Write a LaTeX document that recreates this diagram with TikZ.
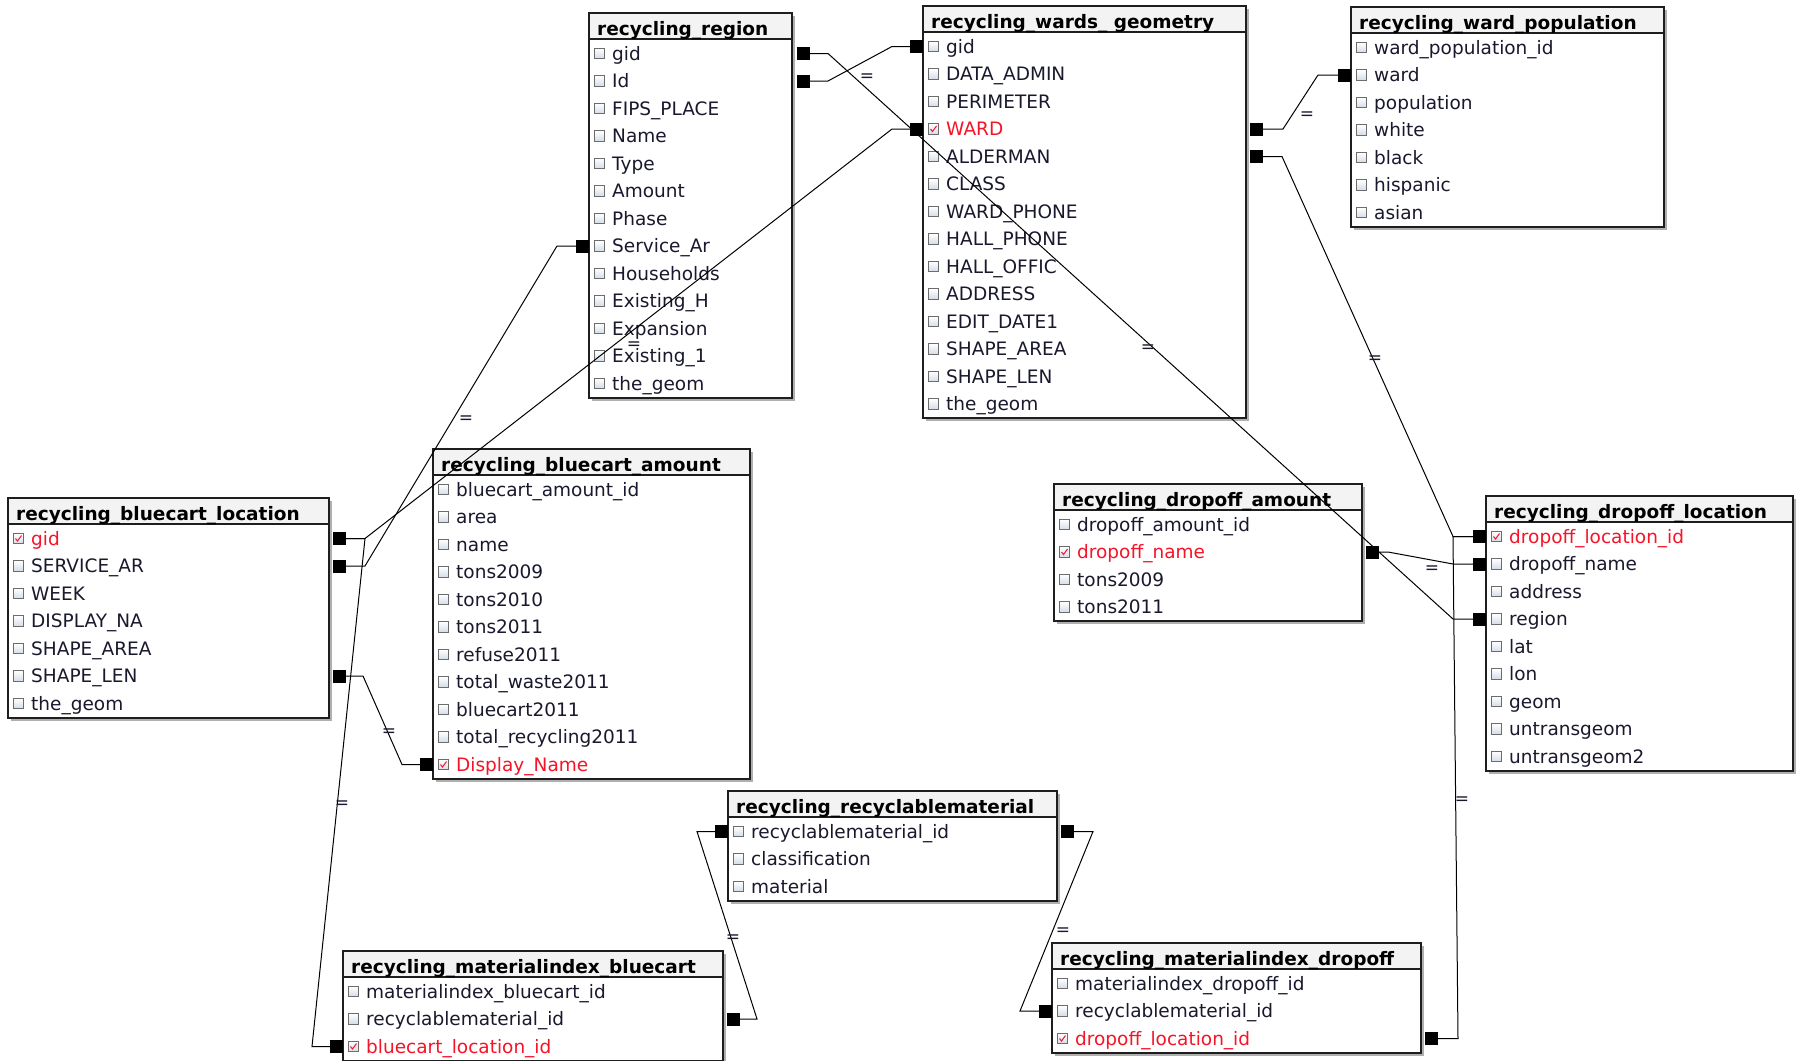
\documentclass[tikz,border=0pt]{standalone}
\usepackage{fontspec}
\setmainfont{DejaVu Sans}
\definecolor{txt}{RGB}{25,25,45}
\definecolor{keyred}{RGB}{245,20,40}
\definecolor{hdr}{RGB}{243,243,243}
\definecolor{shd}{RGB}{175,175,175}
\definecolor{bord}{RGB}{30,30,30}
\tikzset{
 rowtxt/.style={anchor=base west, inner sep=0pt, text=txt, font=\fontsize{18.5}{22}\selectfont},
 keytxt/.style={rowtxt, text=keyred},
 ttl/.style={anchor=base west, inner sep=0pt, text=black, font=\fontsize{18.5}{22}\selectfont\bfseries},
 cbox/.style={draw=gray!85!black, line width=0.8pt, minimum size=10.5pt, inner sep=0pt, top color=white, bottom color={rgb,255:red,212;green,220;blue,232}},
 mk/.style={fill=black, minimum size=13pt, inner sep=0pt, draw=none, rectangle},
 conn/.style={line width=1pt, draw=black},
 eqlabel/.style={inner sep=0pt, text=txt, font=\fontsize{17}{17}\selectfont},
}
\newcommand\dbtable[8]{%
 \pgfmathsetmacro\tbot{#3+27+#5*27.5}%
 \fill[shd] (#2+3,#3+3) rectangle (#4+3,\tbot+3);
 \fill[white] (#2,#3) rectangle (#4,\tbot);
 \fill[hdr] (#2,#3) rectangle (#4,#3+26);
 \draw[bord, line width=1.5pt] (#2,#3+26) -- (#4,#3+26);
 \draw[bord, line width=2pt] (#2,#3) rectangle (#4,\tbot);
 \node[ttl] (#1-title) at (#2+8,#3+22.5) {#7};
 \foreach \r [count=\i] in {#8} {%
   \pgfmathsetmacro\ry{#3+13+\i*27.5}%
   \node[cbox] (#1-cb\i) at (#2+10.5,\ry) {};
   \ifnum\i=#6\relax
     \node[keytxt] (#1-\i) at (#2+23,\ry+6.5) {\r};
     \draw[keyred, line width=1pt] (#2+7.5,\ry) -- (#2+9.5,\ry+2.5) -- (#2+13.5,\ry-3);
   \else
     \node[rowtxt] (#1-\i) at (#2+23,\ry+6.5) {\r};
   \fi
 }%
}
\begin{document}
\begin{tikzpicture}[x=1pt,y=-1pt]
\useasboundingbox (0,0) rectangle (1796,1060);
\fill[white] (0,0) rectangle (1796,1060);

% tables
\dbtable{rg}{589}{13}{792}{13}{0}{recycling\_region}{gid,Id,FIPS\_PLACE,Name,Type,Amount,Phase,Service\_Ar,Households,Existing\_H,Expansion,Existing\_1,the\_geom}
\dbtable{wg}{923}{6}{1246}{14}{4}{recycling\_wards\_ geometry}{gid,DATA\_ADMIN,PERIMETER,WARD,ALDERMAN,CLASS,WARD\_PHONE,HALL\_PHONE,HALL\_OFFIC,ADDRESS,EDIT\_DATE1,SHAPE\_AREA,SHAPE\_LEN,the\_geom}
\dbtable{wp}{1351}{7}{1664}{7}{0}{recycling\_ward\_population}{ward\_population\_id,ward,population,white,black,hispanic,asian}
\dbtable{bl}{8}{498}{329}{7}{1}{recycling\_bluecart\_location}{gid,SERVICE\_AR,WEEK,DISPLAY\_NA,SHAPE\_AREA,SHAPE\_LEN,the\_geom}
\dbtable{ba}{433}{449}{750}{11}{11}{recycling\_bluecart\_amount}{bluecart\_amount\_id,area,name,tons2009,tons2010,tons2011,refuse2011,total\_waste2011,bluecart2011,total\_recycling2011,Display\_Name}
\dbtable{da}{1054}{484}{1362}{4}{2}{recycling\_dropoff\_amount}{dropoff\_amount\_id,dropoff\_name,tons2009,tons2011}
\dbtable{dl}{1486}{496}{1793}{9}{1}{recycling\_dropoff\_location}{dropoff\_location\_id,dropoff\_name,address,region,lat,lon,geom,untransgeom,untransgeom2}
\dbtable{rm}{728}{791}{1057}{3}{0}{recycling\_recyclablematerial}{recyclablematerial\_id,classification,material}
\dbtable{mb}{343}{951}{723}{3}{3}{recycling\_materialindex\_bluecart}{materialindex\_bluecart\_id,recyclablematerial\_id,bluecart\_location\_id}
\dbtable{md}{1052}{943}{1421}{3}{3}{recycling\_materialindex\_dropoff}{materialindex\_dropoff\_id,recyclablematerial\_id,dropoff\_location\_id}

% key markers
\node[mk] (rgR1) at (803,53.5) {};
\node[mk] (rgR2) at (803,81) {};
\node[mk] (rgL8) at (582.5,246) {};
\node[mk] (wgL1) at (916.5,46.5) {};
\node[mk] (wgL4) at (916.5,129) {};
\node[mk] (wgR4) at (1256.5,129) {};
\node[mk] (wgR5) at (1256.5,156.5) {};
\node[mk] (wpL2) at (1344.5,75) {};
\node[mk] (blR1) at (339.5,538.5) {};
\node[mk] (blR2) at (339.5,566) {};
\node[mk] (blR6) at (339.5,676) {};
\node[mk] (baL11) at (426.5,764.5) {};
\node[mk] (daR2) at (1372.5,552) {};
\node[mk] (dlL1) at (1479.5,536.5) {};
\node[mk] (dlL2) at (1479.5,564) {};
\node[mk] (dlL4) at (1479.5,619) {};
\node[mk] (rmL1) at (721.5,831.5) {};
\node[mk] (rmR1) at (1067.5,831.5) {};
\node[mk] (mbL3) at (336.5,1046.5) {};
\node[mk] (mbR2) at (733.5,1019) {};
\node[mk] (mdL2) at (1045.5,1011) {};
\node[mk] (mdR3) at (1431.5,1038.5) {};

% connectors
\draw[conn] (rgR1) -- (828,53.5) -- (1453,619) -- (dlL4);
\draw[conn] (rgR2) -- (828,81) -- (892,46.5) -- (wgL1);
\draw[conn] (blR1) -- (365,538.5) -- (892,129) -- (wgL4);
\draw[conn] (blR2) -- (365,566) -- (557,246) -- (rgL8);
\draw[conn] (blR1) -- (365,538.5) -- (312,1046.5) -- (mbL3);
\draw[conn] (blR6) -- (363,676) -- (402,764.5) -- (baL11);
\draw[conn] (wgR4) -- (1283,129) -- (1318,75) -- (wpL2);
\draw[conn] (wgR5) -- (1282,156.5) -- (1453,536.5) -- (dlL1);
\draw[conn] (daR2) -- (1388,552) -- (1453,564) -- (dlL2);
\draw[conn] (mdR3) -- (1458,1038.5) -- (1453,536.5) -- (dlL1);
\draw[conn] (rmL1) -- (697,831.5) -- (757,1019) -- (mbR2);
\draw[conn] (rmR1) -- (1093,831.5) -- (1020,1011) -- (mdL2);

% relation labels
\node[eqlabel] (e1) at (1148,349) {=};
\node[eqlabel] (e2) at (867,78) {=};
\node[eqlabel] (e3) at (634,346) {=};
\node[eqlabel] (e4) at (466,420) {=};
\node[eqlabel] (e5) at (342,805) {=};
\node[eqlabel] (e6) at (389,733) {=};
\node[eqlabel] (e7) at (1307,116) {=};
\node[eqlabel] (e8) at (1375,360) {=};
\node[eqlabel] (e9) at (1432,570) {=};
\node[eqlabel] (e10) at (1462,801) {=};
\node[eqlabel] (e11) at (733,939) {=};
\node[eqlabel] (e12) at (1063,932) {=};
\end{tikzpicture}
\end{document}
